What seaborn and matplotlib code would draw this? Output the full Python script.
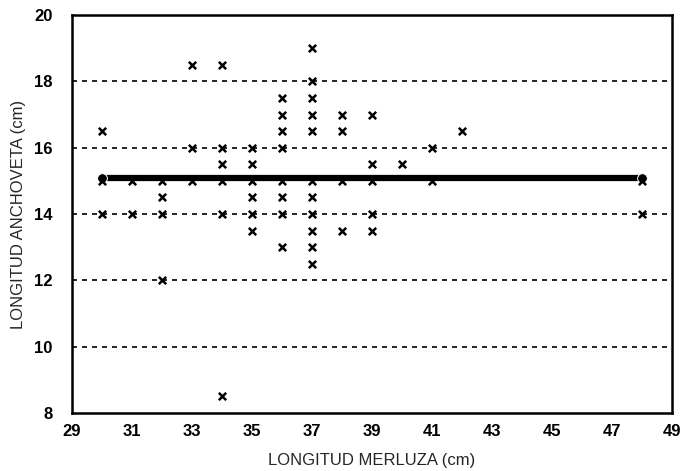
import pandas as pd
import matplotlib.pyplot as plt
import seaborn as sns

# longitud merluza (cm) -> longitudes de anchoveta observadas (cm)
merluza = (
    [30] * 3 + [31] * 2 + [32] * 4 + [33] * 3 + [34] * 6 + [35] * 6
    + [36] * 8 + [37] * 11 + [38] * 4 + [39] * 5 + [40] * 1 + [41] * 2
    + [42] * 1 + [48] * 2
)
anchoveta = [
    16.5, 15, 14,
    15, 14,
    15, 14.5, 14, 12,
    18.5, 16, 15,
    18.5, 16, 15.5, 15, 14, 8.5,
    16, 15.5, 15, 14.5, 14, 13.5,
    17.5, 17, 16.5, 16, 15, 14.5, 14, 13,
    19, 18, 17.5, 17, 16.5, 15, 14.5, 14, 13.5, 13, 12.5,
    17, 16.5, 15, 13.5,
    17, 15.5, 15, 14, 13.5,
    15.5,
    16, 15,
    16.5,
    15, 14,
]

# linea ajustada (media)
ajuste_x = [30, 48]
ajuste_y = [15.1, 15.1]

df = pd.DataFrame({'merluza': merluza, 'anchoveta': anchoveta})
fit = pd.DataFrame({'merluza': ajuste_x, 'anchoveta': ajuste_y})

sns.set_style('white')
plt.rcParams['font.family'] = ['Liberation Sans', 'DejaVu Sans']

fig = plt.figure(figsize=(6.94, 4.71), dpi=100)
ax = fig.add_axes([72 / 694, 1 - 413 / 471, 600 / 694, 398 / 471])

for yv in [10, 12, 14, 16, 18]:
    ax.axhline(yv, color='black', lw=1.2, ls=(0, (3, 3)), zorder=1)

sns.lineplot(data=fit, x='merluza', y='anchoveta', color='black', lw=4.5,
             marker='o', markersize=7, ax=ax, zorder=3)
sns.scatterplot(data=df, x='merluza', y='anchoveta', marker='x', color='black',
                s=28, linewidth=1.8, ax=ax, zorder=4)

ax.set_xlim(29, 49)
ax.set_ylim(8, 20)
ax.set_xticks(range(29, 50, 2))
ax.set_yticks(range(8, 21, 2))
ax.tick_params(labelsize=12, direction='in', length=0, colors='black')
ax.tick_params(axis='x', pad=8)
ax.tick_params(axis='y', pad=14)
for lab in ax.get_xticklabels() + ax.get_yticklabels():
    lab.set_fontweight('bold')
for s in ax.spines.values():
    s.set_color('black')
    s.set_linewidth(1.8)
ax.set_xlabel('LONGITUD MERLUZA (cm)', fontsize=12, labelpad=10)
ax.set_ylabel('LONGITUD ANCHOVETA (cm)', fontsize=12, labelpad=6)

fig.savefig('out.png', dpi=100)
